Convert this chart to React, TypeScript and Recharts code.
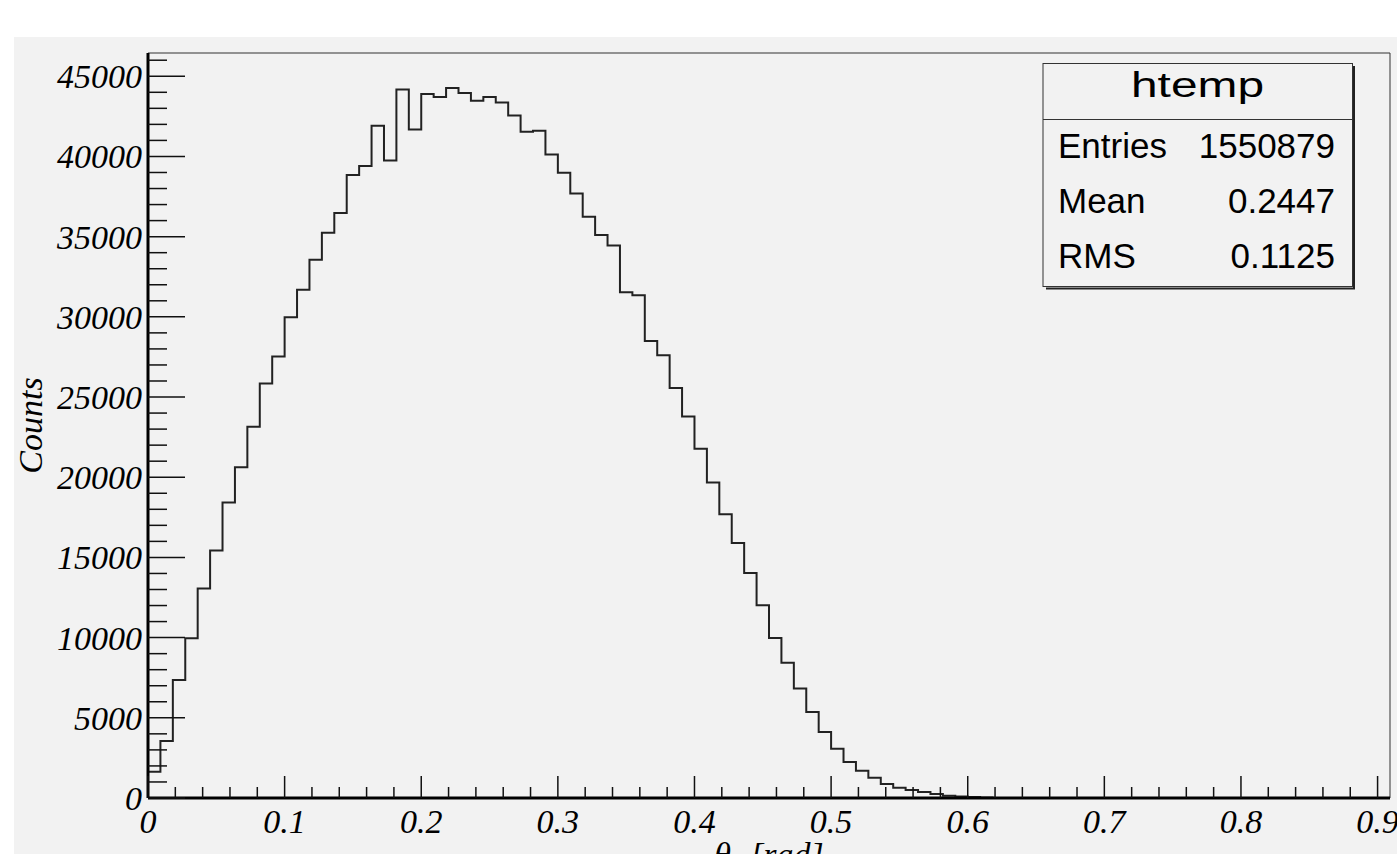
import { LineChart, Line, XAxis, YAxis, ReferenceLine } from 'recharts';

// histogram definition (ROOT htemp): 100 bins from 0 to 100/110
const nBins = 100;
const xLow = 0;
const xHigh = 100 / 110;
const yMax = 46450;

// bin contents
const binCounts = [
  1640, 3555, 7360, 9960, 13055, 15425, 18420, 20625, 23140, 25840,
  27525, 29980, 31685, 33555, 35240, 36470, 38840, 39400, 41910, 39750,
  44180, 41680, 43890, 43700, 44270, 43950, 43470, 43700, 43370, 42560,
  41540, 41600, 40120, 38980, 37690, 36240, 35095, 34450, 31540, 31350,
  28500, 27610, 25570, 23780, 21770, 19670, 17690, 15900, 14030, 12020,
  9980, 8440, 6820, 5360, 4115, 3075, 2245, 1705, 1265, 873,
  642, 500, 374, 250, 145, 95, 55, 25, 0, 0,
  0, 0, 0, 0, 0, 0, 0, 0, 0, 0,
  0, 0, 0, 0, 0, 0, 0, 0, 0, 0,
  0, 0, 0, 0, 0, 0, 0, 0, 0, 0,
];

const xTicks = [
  0, 0.02, 0.04, 0.06, 0.08, 0.1, 0.12, 0.14, 0.16, 0.18,
  0.2, 0.22, 0.24, 0.26, 0.28, 0.3, 0.32, 0.34, 0.36, 0.38,
  0.4, 0.42, 0.44, 0.46, 0.48, 0.5, 0.52, 0.54, 0.56, 0.58,
  0.6, 0.62, 0.64, 0.66, 0.68, 0.7, 0.72, 0.74, 0.76, 0.78,
  0.8, 0.82, 0.84, 0.86, 0.88, 0.9,
];
const xLabels = [0, 0.1, 0.2, 0.3, 0.4, 0.5, 0.6, 0.7, 0.8, 0.9];

const yTicks = [
  0, 1000, 2000, 3000, 4000, 5000, 6000, 7000, 8000, 9000,
  10000, 11000, 12000, 13000, 14000, 15000, 16000, 17000, 18000, 19000,
  20000, 21000, 22000, 23000, 24000, 25000, 26000, 27000, 28000, 29000,
  30000, 31000, 32000, 33000, 34000, 35000, 36000, 37000, 38000, 39000,
  40000, 41000, 42000, 43000, 44000, 45000, 46000,
];
const yLabels = [0, 5000, 10000, 15000, 20000, 25000, 30000, 35000, 40000, 45000];

const stats = [
  { name: 'Entries', value: '1550879' },
  { name: 'Mean', value: '0.2447' },
  { name: 'RMS', value: '0.1125' },
];

// step line points: left edge of each bin, plus closing upper edge
const binWidth = (xHigh - xLow) / nBins;
const histData = binCounts.map((c, i) => ({ x: xLow + i * binWidth, y: c }));
histData.push({ x: xHigh, y: binCounts[nBins - 1] });

const serif = "'Liberation Serif', 'Times New Roman', serif";
const sans = "'Liberation Sans', Arial, sans-serif";

const isLabel = (list: number[], v: number) => list.some((l) => Math.abs(l - v) < 1e-9);

function XTick(props: any) {
  const { x, y, payload } = props;
  const major = isLabel(xLabels, payload.value);
  return (
    <g>
      <line x1={x} x2={x} y1={y} y2={y - (major ? 22 : 11)} stroke="#111" strokeWidth={1.5} />
      {major && (
        <text x={x} y={y + 35} textAnchor="middle" fontFamily={serif} fontStyle="italic" fontSize={34} fill="#000">
          {String(Number(payload.value.toFixed(2)))}
        </text>
      )}
    </g>
  );
}

function YTick(props: any) {
  const { x, y, payload } = props;
  const major = isLabel(yLabels, payload.value);
  return (
    <g>
      <line x1={x} x2={x + (major ? 37 : 19)} y1={y} y2={y} stroke="#111" strokeWidth={1.5} />
      {major && (
        <text x={x - 6} y={y + 12} textAnchor="end" fontFamily={serif} fontStyle="italic" fontSize={34} fill="#000">
          {payload.value}
        </text>
      )}
    </g>
  );
}

function YTitle(props: any) {
  const vb = props.viewBox;
  const cx = vb.x - 105;
  const cy = vb.y + vb.height / 2;
  return (
    <text x={cx} y={cy} transform={`rotate(-90 ${cx} ${cy})`} textAnchor="middle" fontFamily={serif} fontStyle="italic" fontSize={34} fill="#000">
      Counts
    </text>
  );
}

function XTitle(props: any) {
  const vb = props.viewBox;
  return (
    <text x={vb.x + vb.width / 2} y={vb.y + 68} textAnchor="middle" fontFamily={serif} fontStyle="italic" fontSize={34} fill="#000">
      θ<tspan dy={8} fontSize={24}>x</tspan>
      <tspan dy={-8}> [rad]</tspan>
    </text>
  );
}

function StatsBox() {
  return (
    <svg width={1397} height={854} style={{ position: 'absolute', left: 0, top: 0, pointerEvents: 'none' }}>
      <line x1={1354} x2={1354} y1={66} y2={289} stroke="#222" strokeWidth={2} />
      <line x1={1046} x2={1355} y1={288.5} y2={288.5} stroke="#222" strokeWidth={2} />
      <rect x={1043} y={63.5} width={309.5} height={223} fill="#f2f2f2" stroke="#333" strokeWidth={1} />
      <line x1={1043} x2={1352.5} y1={119.5} y2={119.5} stroke="#333" strokeWidth={1} />
      <text x={1131} y={97} fontFamily={sans} fontSize={35} textLength={133} lengthAdjust="spacingAndGlyphs" fill="#000">
        htemp
      </text>
      {stats.map((s, i) => (
        <g key={s.name}>
          <text x={1058} y={158 + i * 55} fontFamily={sans} fontSize={35} fill="#000">
            {s.name}
          </text>
          <text x={1335} y={158 + i * 55} textAnchor="end" fontFamily={sans} fontSize={35} fill="#000">
            {s.value}
          </text>
        </g>
      ))}
    </svg>
  );
}

export default function App() {
  return (
    <div style={{ position: 'absolute', left: 0, top: 0, width: 1397, height: 854, background: '#fff', overflow: 'hidden' }}>
      <div style={{ position: 'absolute', left: 14, top: 37, right: 0, bottom: 0, background: '#f2f2f2' }} />
      <div style={{ position: 'absolute', left: 0, top: 0 }}>
        <LineChart width={1397} height={854} data={histData} margin={{ top: 53, right: 7, bottom: 55, left: 147 }}>
          <XAxis
            dataKey="x"
            type="number"
            domain={[xLow, xHigh]}
            ticks={xTicks}
            interval={0}
            height={1}
            tickSize={0}
            tickMargin={0}
            tick={XTick}
            axisLine={{ stroke: '#000', strokeWidth: 3 }}
            label={XTitle}
          />
          <YAxis
            type="number"
            domain={[0, yMax]}
            ticks={yTicks}
            interval={0}
            width={1}
            tickSize={0}
            tickMargin={0}
            tick={YTick}
            axisLine={{ stroke: '#000', strokeWidth: 3 }}
            label={YTitle}
          />
          <ReferenceLine y={yMax} stroke="#333" strokeWidth={1} />
          <ReferenceLine x={xHigh} stroke="#333" strokeWidth={1} />
          <Line
            dataKey="y"
            type="stepAfter"
            stroke="#222"
            strokeWidth={2}
            dot={false}
            activeDot={false}
            isAnimationActive={false}
          />
        </LineChart>
      </div>
      <StatsBox />
    </div>
  );
}
